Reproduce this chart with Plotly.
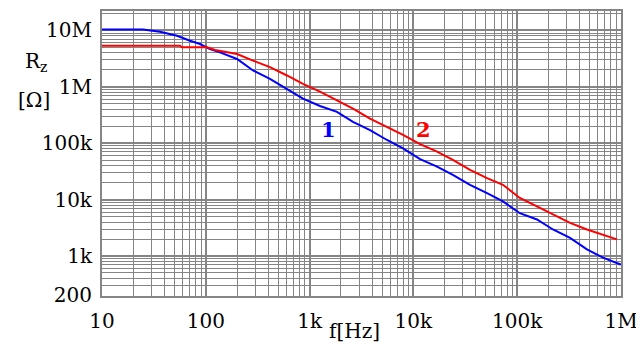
import plotly.graph_objects as go

# Frequencies (Hz) and impedances (Ohm)
f_blue = [10, 24.8, 36.2, 52.8, 70.5, 87.9, 109.7, 137, 200, 285, 415, 605, 863, 1259,
          1835, 2618, 3819, 5568, 7943, 11600, 16900, 24000, 35100, 51200, 72900,
          106000, 155000, 221000, 323000, 470000, 671000, 977000, 1000000]
r_blue = [10.4e6, 10.4e6, 9.48e6, 8.07e6, 6.57e6, 5.74e6, 4.68e6, 4.09e6, 3.12e6, 1.95e6,
          1.39e6, 925e3, 616e3, 458e3, 359e3, 239e3, 171e3, 114e3, 80.9e3, 52.2e3,
          38.5e3, 27.5e3, 18.3e3, 13.0e3, 9.3e3, 5.73e3, 4.44e3, 2.95e3, 2.10e3, 1.31e3,
          933, 714, 700]

f_red = [10, 56.4, 59, 103, 123, 160, 200, 285, 415, 605, 863, 1259, 1835, 2618, 3819,
         5568, 7943, 11600, 16900, 24000, 35100, 51200, 72900, 106000, 155000, 221000,
         323000, 470000, 671000, 914000]
r_red = [5.37e6, 5.37e6, 5.01e6, 5.01e6, 4.50e6, 4.09e6, 3.82e6, 2.92e6, 2.23e6, 1.59e6,
         1.13e6, 824e3, 577e3, 410e3, 273e3, 195e3, 140e3, 96e3, 70.8e3, 50.6e3, 33.7e3,
         24.0e3, 18.3e3, 10.7e3, 7.6e3, 5.43e3, 3.86e3, 2.95e3, 2.41e3, 1.97e3]

x_tickvals = [10, 100, 1e3, 1e4, 1e5, 1e6]
x_ticktext = ["10", "100", "1k", "10k", "100k", "1M"]
y_tickvals = [200, 1e3, 1e4, 1e5, 1e6, 1e7]
y_ticktext = ["200", "1k", "10k", "100k", "1M", "10M"]

FONT = "DejaVu Serif"
GRID = "#858585"
FS = 20

fig = go.Figure()
fig.add_trace(go.Scatter(x=f_blue, y=r_blue, mode="lines",
                         line=dict(color="#0000ff", width=2), name="1"))
fig.add_trace(go.Scatter(x=f_red, y=r_red, mode="lines",
                         line=dict(color="#ff0000", width=2), name="2"))

axis_common = dict(
    type="log", showgrid=True, gridcolor=GRID, gridwidth=2,
    showline=True, linecolor=GRID, linewidth=2, mirror=True,
    ticks="", zeroline=False, ticklabeloverflow="allow",
    tickfont=dict(family=FONT, size=FS, color="black"),
    minor=dict(dtick="D1", showgrid=True, gridcolor=GRID, gridwidth=1),
)

fig.update_xaxes(range=[1, 6], tickmode="array", tickvals=x_tickvals,
                 ticktext=x_ticktext, ticklabelstandoff=6, **axis_common)
fig.update_yaxes(range=[2.29, 7.345], tickmode="array", tickvals=y_tickvals,
                 ticktext=y_ticktext, ticklabelstandoff=4, **axis_common)

ann = [
    dict(text="R<sub>z</sub>", x=-0.127, y=0.82, font=dict(size=FS)),
    dict(text="[Ω]", x=-0.131, y=0.686, font=dict(size=FS)),
    dict(text="f[Hz]", x=0.486, y=-0.122, font=dict(size=FS)),
    dict(text="<b>1</b>", x=0.437, y=0.585, font=dict(size=FS + 1, color="#0000ff")),
    dict(text="<b>2</b>", x=0.620, y=0.585, font=dict(size=FS + 1, color="#ff0000")),
]
for a in ann:
    a["font"].setdefault("color", "black")
    a["font"]["family"] = FONT
    fig.add_annotation(xref="paper", yref="paper", showarrow=False,
                       xanchor="center", yanchor="middle", **a)

fig.update_layout(
    width=636, height=339,
    margin=dict(l=94, r=23, t=1, b=51),
    paper_bgcolor="white", plot_bgcolor="white",
    font=dict(family=FONT),
    showlegend=False,
)

fig.write_html("out.html")
